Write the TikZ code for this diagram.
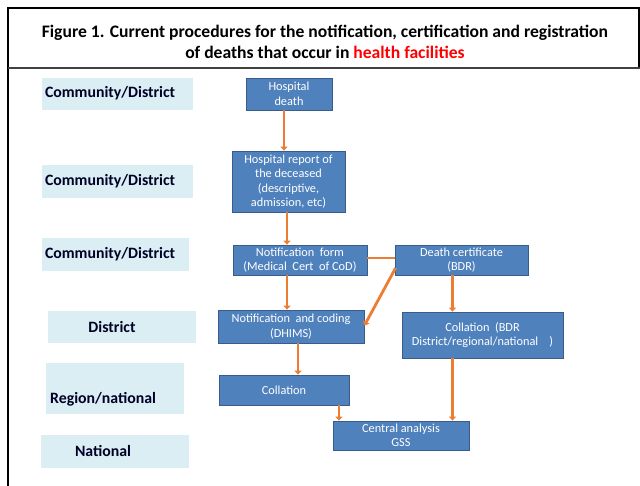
\documentclass[tikz,border=0pt]{standalone}
\usepackage{fontspec}
\setmainfont{Carlito}
\usetikzlibrary{arrows.meta}
\definecolor{boxblue}{HTML}{4F81BD}
\definecolor{boxedge}{HTML}{385D8A}
\definecolor{lineorange}{HTML}{ED7D31}
\definecolor{lblblue}{HTML}{DAEEF3}
\begin{document}
\begin{tikzpicture}[x=1pt,y=-1pt,
  bbox/.style={draw=boxedge, line width=0.8pt, fill=boxblue, text=white, align=center,
    font=\fontsize{12.3}{14.5}\selectfont, inner sep=0pt},
  lblbox/.style={fill=lblblue, inner sep=0pt},
  lbltext/.style={font=\bfseries\fontsize{15.8}{17}\selectfont, inner sep=0pt, text=black!85!blue},
  conn/.style={draw=lineorange, line width=2.8pt},
  arr/.style={conn, -{Triangle[width=7pt,length=4pt]}}]
\useasboundingbox (0,0) rectangle (640,486);
\fill[white] (0,0) rectangle (640,486);
% frame
\draw[line width=1.6pt] (8,486) -- (8,8) -- (640,8);
\draw[line width=1.2pt] (639,8) -- (639,68);
\draw[line width=1.6pt, black!75] (8,68) -- (640,68);
% title
\node[font=\bfseries\fontsize{17.6}{21.5}\selectfont, align=center, inner sep=0pt] (title) at (325,42)
  {Figure 1. Current procedures for the notification,\ certification\ and registration\\
   of deaths that occur in \textcolor{red}{health facilities}};
% level labels
\node[lblbox, minimum width=151, minimum height=32] (l1) at (117.5,94) {};
\node[lbltext, anchor=west] (t1) at ([xshift=3pt,yshift=1pt]l1.west) {Community/District};
\node[lblbox, minimum width=151, minimum height=33] (l2) at (117.5,181.5) {};
\node[lbltext, anchor=west] (t2) at ([xshift=3pt]l2.west) {Community/District};
\node[lblbox, minimum width=147, minimum height=33] (l3) at (115.5,254.5) {};
\node[lbltext, anchor=west] (t3) at ([xshift=3pt]l3.west) {Community/District};
\node[lblbox, minimum width=148, minimum height=32] (l4) at (122,327) {};
\node[lbltext] (t4) at (112,327) {District};
\node[lblbox, minimum width=138, minimum height=51] (l5) at (115,388.5) {};
\node[lbltext, anchor=west] (t5) at (50,399) {Region/national};
\node[lblbox, minimum width=148, minimum height=33] (l6) at (115,451.5) {};
\node[lbltext] (t6) at (103,451) {National};
% process boxes
\node[bbox, minimum width=86, minimum height=32] (hd) at (289,94) {Hospital\\death};
\node[bbox, minimum width=113, minimum height=61] (hr) at (288.5,181.5) {Hospital report of\\the deceased\\(descriptive,\\admission, etc)};
\node[bbox, minimum width=134, minimum height=30] (nf) at (300,260) {Notification\ \ form\\(Medical\ \ Cert\ \ of CoD)};
\node[bbox, minimum width=133, minimum height=30] (dc) at (461.5,260) {Death certificate\\(BDR)};
\node[bbox, minimum width=146, minimum height=33] (nc) at (291,326.5) {Notification\ \ and coding\\(DHIMS)};
\node[bbox, minimum width=161, minimum height=46] (cb) at (482.5,335) {Collation\ \ (BDR\\District/regional/national\ \ \ \ )};
\node[bbox, minimum width=130, minimum height=30] (co) at (284,390) {Collation};
\node[bbox, minimum width=136, minimum height=29] (ca) at (401,435.5) {Central analysis\\GSS};
% connectors
\draw[arr] ([xshift=-5pt]hd.south) -- ([xshift=-5pt]hd.south |- hr.north);
\draw[arr] ([xshift=-1.5pt]hr.south) -- ([xshift=-1.5pt]hr.south |- nf.north);
\draw[arr] ([xshift=-13pt]nf.south) -- ([xshift=-13pt]nf.south |- nc.north);
\draw[conn] ([yshift=2pt]nf.east) -- ([yshift=2pt]dc.west);
\draw[arr] ([xshift=1pt,yshift=-8pt]dc.west) -- ([yshift=1pt]nc.east);
\draw[arr] ([xshift=-9pt]dc.south) -- ([xshift=-9pt]dc.south |- cb.north);
\draw[arr] ([xshift=7pt]nc.south) -- ([xshift=7pt]nc.south |- co.north);
\draw[arr] ([xshift=55pt]co.south) -- ([xshift=55pt]co.south |- ca.north);
\draw[arr] ([xshift=-30pt]cb.south) -- ([xshift=-30pt]cb.south |- ca.north);
\end{tikzpicture}
\end{document}
